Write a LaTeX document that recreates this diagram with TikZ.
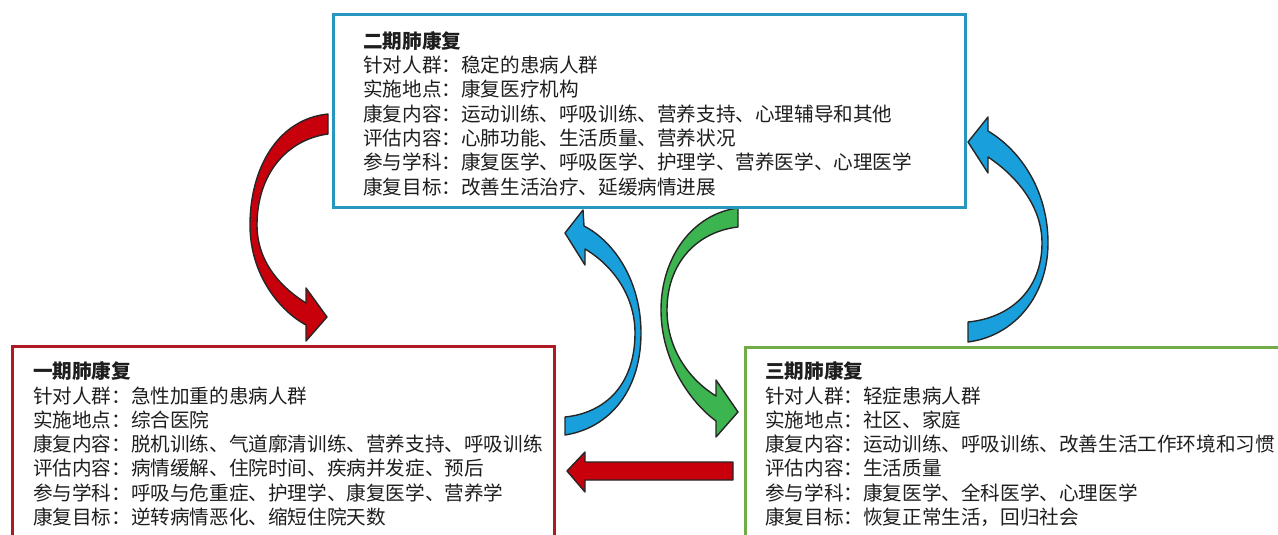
\documentclass[tikz,border=0pt]{standalone}
\usepackage{fontspec}
\setmainfont{Noto Sans CJK SC}
\definecolor{boxblue}{RGB}{40,150,190}
\definecolor{boxred}{RGB}{175,25,35}
\definecolor{boxgreen}{RGB}{112,173,71}
\definecolor{arrred}{RGB}{200,0,12}
\definecolor{arrblue}{RGB}{25,160,220}
\definecolor{arrgreen}{RGB}{60,180,80}
\definecolor{txt}{RGB}{30,30,30}
\begin{document}
\begin{tikzpicture}[x=1pt,y=-1pt,
  stagebox/.style={draw, line width=3pt, inner sep=0pt, outer sep=0pt},
  stagetext/.style={anchor=base west, align=left, inner sep=0pt, text=txt,
    font=\fontsize{19.6}{24.3}\selectfont},
  blockarrow/.style={draw=black!85, line width=1.4pt, line join=round}]
\useasboundingbox (0,0) rectangle (1278,535);

% curved and straight block arrows
\path[blockarrow, fill=arrred] (328,114) .. controls (278,119) and (250,168) .. (250,225)
  .. controls (250,275) and (280,311) .. (306,325) -- (306,341) -- (327,317) -- (306,288) -- (306,303)
  .. controls (285,290) and (257,265) .. (257,225) .. controls (257,176) and (285,140) .. (328,134) -- cycle;
\path[blockarrow, fill=arrblue] (565,435) .. controls (610,428) and (641,390) .. (641,333)
  .. controls (641,282) and (615,242) .. (584,226) -- (583,210) -- (565,233) -- (585,265) -- (585,249)
  .. controls (612,265) and (635,295) .. (635,333) .. controls (635,385) and (605,413) .. (565,417) -- cycle;
\path[blockarrow, fill=arrgreen] (738,208) .. controls (692,214) and (661,258) .. (661,310)
  .. controls (661,360) and (690,402) .. (716,421) -- (716,437) -- (738,412) -- (716,380) -- (716,396)
  .. controls (690,380) and (667,350) .. (667,310) .. controls (667,265) and (695,232) .. (738,227) -- cycle;
\path[blockarrow, fill=arrblue] (968,342) .. controls (1015,336) and (1048,295) .. (1048,243)
  .. controls (1048,190) and (1020,150) .. (988,131) -- (988,117) -- (968,142) -- (988,173) -- (988,157)
  .. controls (1015,175) and (1042,205) .. (1042,243) .. controls (1042,290) and (1010,318) .. (968,322) -- cycle;
\path[blockarrow, fill=arrred] (733,462) -- (585,462) -- (585,452) -- (567,471) -- (585,492) -- (585,480) -- (733,480) -- cycle;

% boxes
\node[stagebox, draw=boxblue, minimum width=632pt, minimum height=192pt] (b2) at (649,111) {};
\node[stagebox, draw=boxred, minimum width=542pt, minimum height=200pt] (b1) at (283,446) {};
\node[stagebox, draw=boxgreen, minimum width=545pt, minimum height=200pt] (b3) at (1017.5,447) {};

% texts (anchor = baseline of the last line)
\node[stagetext] (t2) at (363,194) {\textbf{二期肺康复}\\针对人群：稳定的患病人群\\实施地点：康复医疗机构\\康复内容：运动训练、呼吸训练、营养支持、心理辅导和其他\\评估内容：心肺功能、生活质量、营养状况\\参与学科：康复医学、呼吸医学、护理学、营养医学、心理医学\\康复目标：改善生活治疗、延缓病情进展};
\node[stagetext] (t1) at (33,524.5) {\textbf{一期肺康复}\\针对人群：急性加重的患病人群\\实施地点：综合医院\\康复内容：脱机训练、气道廓清训练、营养支持、呼吸训练\\评估内容：病情缓解、住院时间、疾病并发症、预后\\参与学科：呼吸与危重症、护理学、康复医学、营养学\\康复目标：逆转病情恶化、缩短住院天数};
\node[stagetext] (t3) at (765,524.5) {\textbf{三期肺康复}\\针对人群：轻症患病人群\\实施地点：社区、家庭\\康复内容：运动训练、呼吸训练、改善生活工作环境和习惯\\评估内容：生活质量\\参与学科：康复医学、全科医学、心理医学\\康复目标：恢复正常生活，回归社会};
\end{tikzpicture}
\end{document}
